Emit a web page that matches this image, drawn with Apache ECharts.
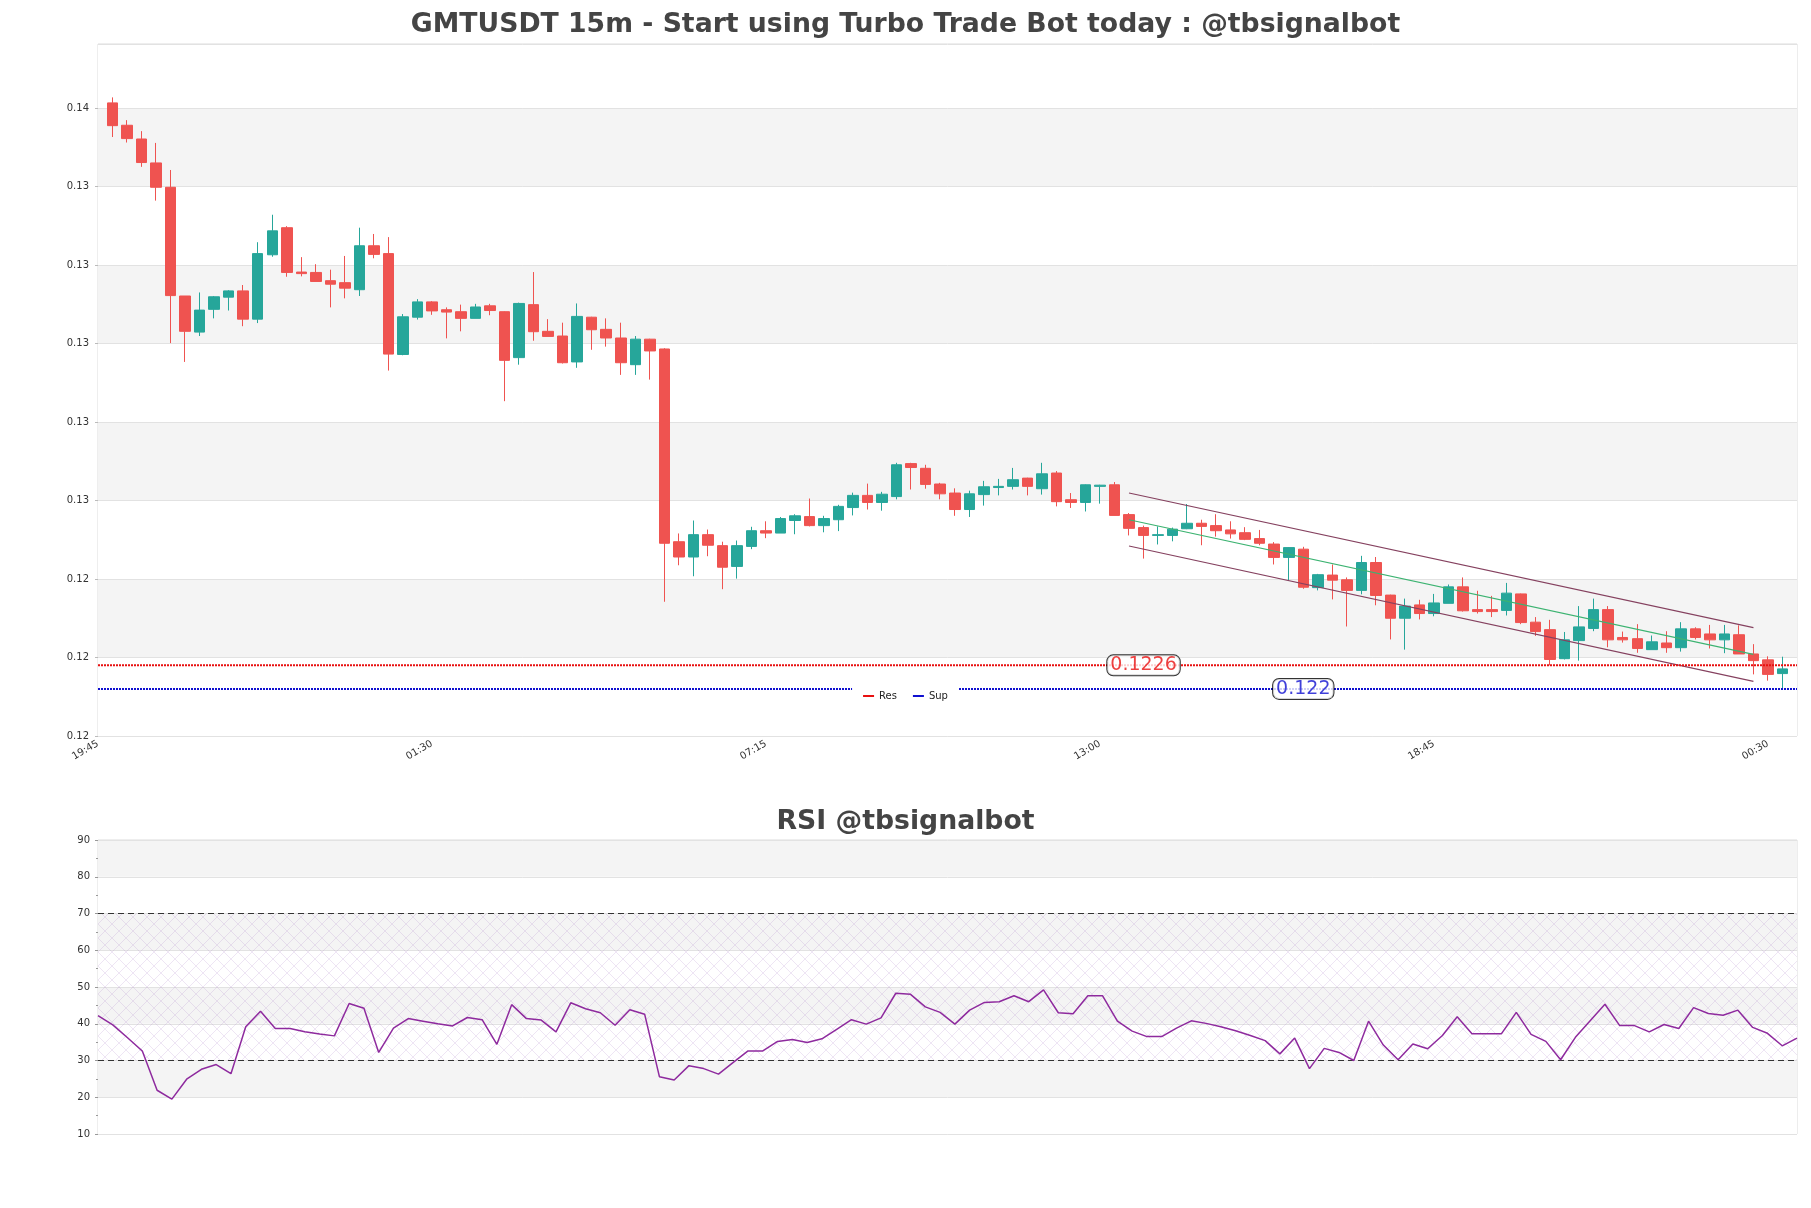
<!DOCTYPE html>
<html><head><meta charset="utf-8">
<script src="https://cdn.jsdelivr.net/npm/echarts@6/dist/echarts.min.js"></script>
<style>html,body{margin:0;padding:0;background:#fff;}#chart{width:1811px;height:1208px;}</style>
</head><body><div id="chart"></div>
<script>
// ---------- DATA ----------
const tickLabels = ['19:45', '01:30', '07:15', '13:00', '18:45', '00:30'];
const opens = [0.13693,0.13636,0.13601,0.13540,0.13478,0.13201,0.13109,0.13167,0.13198,0.13214,
0.13142,0.13306,0.13375,0.13262,0.13261,0.13240,0.13235,0.13217,0.13329,0.13309,
0.13052,0.13147,0.13186,0.13166,0.13161,0.13144,0.13176,0.13161,0.13044,0.13179,
0.13111,0.13099,0.13033,0.13147,0.13116,0.13094,0.13026,0.13091,0.13066,0.12575,
0.12536,0.12593,0.12565,0.12512,0.12563,0.12603,0.12597,0.12629,0.12639,0.12616,
0.12631,0.12662,0.12693,0.12675,0.12690,0.12774,0.12762,0.12722,0.12699,0.12657,
0.12695,0.12713,0.12716,0.12737,0.12710,0.12750,0.12682,0.12675,0.12716,0.12720,
0.12644,0.12611,0.12591,0.12591,0.12608,0.12622,0.12616,0.12605,0.12598,0.12583,
0.12569,0.12535,0.12556,0.12458,0.12490,0.12478,0.12451,0.12522,0.12439,0.12380,
0.12414,0.12392,0.12418,0.12460,0.12402,0.12402,0.12400,0.12442,0.12370,0.12351,
0.12277,0.12323,0.12354,0.12402,0.12331,0.12328,0.12300,0.12317,0.12305,0.12353,
0.12340,0.12325,0.12338,0.12289,0.12274,0.12239];
const closes = [0.13635,0.13602,0.13541,0.13478,0.13202,0.13111,0.13165,0.13199,0.13214,0.13142,
0.13309,0.13367,0.13261,0.13258,0.13238,0.13231,0.13221,0.13329,0.13307,0.13053,
0.13148,0.13186,0.13163,0.13160,0.13144,0.13173,0.13164,0.13037,0.13182,0.13110,
0.13098,0.13031,0.13149,0.13115,0.13094,0.13031,0.13091,0.13061,0.12571,0.12536,
0.12593,0.12566,0.12510,0.12565,0.12603,0.12597,0.12634,0.12641,0.12616,0.12634,
0.12665,0.12693,0.12675,0.12696,0.12771,0.12764,0.12721,0.12697,0.12657,0.12697,
0.12715,0.12716,0.12733,0.12716,0.12748,0.12677,0.12675,0.12720,0.12719,0.12642,
0.12609,0.12591,0.12593,0.12607,0.12622,0.12614,0.12603,0.12595,0.12581,0.12571,
0.12535,0.12560,0.12459,0.12491,0.12477,0.12451,0.12522,0.12438,0.12380,0.12411,
0.12392,0.12419,0.12460,0.12399,0.12397,0.12397,0.12444,0.12369,0.12346,0.12275,
0.12325,0.12358,0.12402,0.12325,0.12325,0.12303,0.12320,0.12305,0.12353,0.12331,
0.12325,0.12340,0.12289,0.12272,0.12237,0.12251];
const lows = [0.13606,0.13592,0.13530,0.13444,0.13081,0.13033,0.13099,0.13144,0.13164,0.13124,
0.13132,0.13301,0.13250,0.13251,0.13238,0.13172,0.13195,0.13201,0.13297,0.13011,
0.13050,0.13141,0.13153,0.13093,0.13111,0.13144,0.13152,0.12933,0.13026,0.13087,
0.13098,0.13029,0.13018,0.13064,0.13072,0.13000,0.13000,0.12988,0.12422,0.12515,
0.12487,0.12538,0.12454,0.12481,0.12556,0.12584,0.12597,0.12594,0.12614,0.12599,
0.12602,0.12642,0.12657,0.12654,0.12683,0.12708,0.12710,0.12683,0.12641,0.12638,
0.12667,0.12693,0.12708,0.12693,0.12695,0.12665,0.12661,0.12652,0.12672,0.12642,
0.12591,0.12532,0.12568,0.12576,0.12607,0.12566,0.12588,0.12583,0.12579,0.12566,
0.12517,0.12477,0.12455,0.12451,0.12428,0.12359,0.12441,0.12413,0.12326,0.12300,
0.12377,0.12385,0.12418,0.12397,0.12392,0.12383,0.12387,0.12365,0.12335,0.12260,
0.12275,0.12272,0.12347,0.12306,0.12318,0.12292,0.12300,0.12292,0.12295,0.12326,
0.12303,0.12291,0.12289,0.12237,0.12221,0.12200];
const highs = [0.13707,0.13649,0.13621,0.13591,0.13522,0.13201,0.13210,0.13201,0.13216,0.13229,
0.13338,0.13408,0.13379,0.13300,0.13282,0.13268,0.13303,0.13375,0.13359,0.13351,
0.13155,0.13193,0.13188,0.13172,0.13179,0.13181,0.13181,0.13162,0.13184,0.13262,
0.13142,0.13133,0.13182,0.13148,0.13144,0.13133,0.13099,0.13092,0.13068,0.12596,
0.12629,0.12606,0.12575,0.12578,0.12613,0.12627,0.12638,0.12645,0.12685,0.12641,
0.12669,0.12700,0.12723,0.12702,0.12776,0.12776,0.12771,0.12725,0.12711,0.12705,
0.12730,0.12735,0.12763,0.12738,0.12776,0.12755,0.12699,0.12721,0.12720,0.12727,
0.12648,0.12616,0.12614,0.12611,0.12671,0.12631,0.12645,0.12627,0.12612,0.12605,
0.12574,0.12561,0.12562,0.12493,0.12517,0.12484,0.12539,0.12536,0.12440,0.12430,
0.12427,0.12442,0.12466,0.12484,0.12450,0.12437,0.12470,0.12443,0.12383,0.12376,
0.12345,0.12411,0.12430,0.12411,0.12346,0.12365,0.12336,0.12347,0.12370,0.12357,
0.12363,0.12363,0.12362,0.12314,0.12283,0.12282];
const rsiValues = [42.2,39.7,36.2,32.6,21.9,19.5,24.9,27.6,28.9,26.4,
39.2,43.4,38.7,38.7,37.8,37.2,36.7,45.5,44.2,32.2,
38.8,41.4,40.7,40.0,39.4,41.7,41.1,34.4,45.2,41.4,
41.0,37.8,45.7,44.1,43.0,39.6,43.8,42.6,25.6,24.7,
28.6,27.8,26.3,29.5,32.6,32.6,35.2,35.7,34.9,35.9,
38.5,41.1,39.9,41.6,48.3,48.0,44.6,43.1,39.9,43.7,
45.8,46.0,47.6,46.0,49.2,43.0,42.7,47.6,47.6,40.7,
38.0,36.5,36.5,38.8,40.8,40.1,39.2,38.1,36.8,35.4,
31.8,36.1,27.8,33.3,32.2,30.0,40.7,34.2,30.2,34.5,
33.2,36.8,41.9,37.3,37.3,37.3,43.1,37.1,35.2,30.2,
36.3,40.8,45.3,39.5,39.5,37.8,39.8,38.7,44.4,42.8,
42.3,43.7,39.0,37.4,34.0,36.1];
const resLevel = 0.1226;
const supLevel = 0.122;
const channelIdx = [71, 114];
const channelUpper = [0.12699, 0.12356];
const channelMid = [0.12631, 0.12288];
const channelLower = [0.12564, 0.12219];
const resLabelIdx = 72;
const supLabelIdx = 83;
const rsiLevels = [70, 30];

// ---------- BUILD ----------
const N = opens.length;              // candles
const catCount = N + 2;              // padding slot each side
const cats = Array.from({length: catCount}, (_, i) => String(i));
const candleData = opens.map((o, i) => [i + 1, o, closes[i], lows[i], highs[i]]);
const rsiCats = rsiValues.map((_, i) => String(i));
const FONT = 'DejaVu Sans';

const hatch = document.createElement('canvas');
hatch.width = 14; hatch.height = 14;
(function(){
  const c = hatch.getContext('2d');
  c.strokeStyle = 'rgba(180,140,205,0.32)';
  c.lineWidth = 0.7;
  c.beginPath();
  c.moveTo(0, 0); c.lineTo(14, 14);
  c.moveTo(14, 0); c.lineTo(0, 14);
  c.stroke();
})();

const chart = echarts.init(document.getElementById('chart'), null, {renderer: 'canvas'});
const titleStyle = {fontSize: 26.7, fontWeight: 'bold', color: '#444', fontFamily: FONT};
const chLine = (name, vals, color) => ({
  type: 'line', name, xAxisIndex: 0, yAxisIndex: 0, silent: true, showSymbol: false,
  data: [[channelIdx[0], vals[0]], [channelIdx[1], vals[1]]],
  lineStyle: {color, width: 1.2}, z: 4
});
const lvlLabel = (idx, val, color) => ({
  type: 'scatter', xAxisIndex: 0, yAxisIndex: 0, silent: true, symbolSize: 0, z: 10,
  data: [[idx, val]],
  label: {show: true, position: 'inside', formatter: () => String(val), color, fontSize: 19,
    fontFamily: FONT, backgroundColor: '#fff', borderColor: '#000', borderWidth: 1,
    borderRadius: 6, padding: [1, 3, 0, 3]}
});

chart.setOption({
  animation: false,
  backgroundColor: '#fff',
  textStyle: {fontFamily: FONT},
  title: [
    {text: 'GMTUSDT 15m - Start using Turbo Trade Bot today : @tbsignalbot', left: 'center', top: 7, textStyle: titleStyle},
    {text: 'RSI @tbsignalbot', left: 'center', top: 804, textStyle: titleStyle}
  ],
  legend: {
    data: ['Res', 'Sup'], left: 'center', top: 685, icon: 'rect', itemWidth: 11, itemHeight: 2,
    itemGap: 16, backgroundColor: '#fff', padding: [6, 11], z: 20,
    textStyle: {fontSize: 10, color: '#222', fontFamily: FONT}
  },
  grid: [
    {left: 98, right: 14, top: 44, height: 692, show: true, borderColor: '#dcdcdc', borderWidth: 1},
    {left: 98, right: 14, top: 840, height: 294, show: true, borderColor: '#dcdcdc', borderWidth: 1}
  ],
  xAxis: [
    {type: 'category', gridIndex: 0, data: cats, boundaryGap: false,
     axisLine: {show: false}, axisTick: {show: false}, splitLine: {show: false},
     axisLabel: {interval: 22, rotate: 30, fontSize: 10, color: '#333', margin: 7,
       formatter: (v, i) => tickLabels[Math.round(i / 23)] || ''}},
    {type: 'category', gridIndex: 1, data: rsiCats, boundaryGap: false,
     axisLine: {show: false}, axisTick: {show: false}, axisLabel: {show: false}, splitLine: {show: false}}
  ],
  yAxis: [
    {type: 'value', gridIndex: 0, min: 0.1208, max: 0.13843, interval: 0.002,
     axisLine: {show: false}, axisTick: {show: true, length: 3, lineStyle: {color: '#bbb'}},
     axisLabel: {formatter: v => v.toFixed(2), fontSize: 10, color: '#333', showMaxLabel: false, margin: 9},
     splitLine: {lineStyle: {color: '#e2e2e2'}},
     splitArea: {show: true, areaStyle: {color: ['#ffffff', '#f4f4f4']}}},
    {type: 'value', gridIndex: 1, min: 10, max: 90, interval: 10,
     axisLine: {show: false}, axisTick: {show: true, length: 3, lineStyle: {color: '#999'}},
     minorTick: {show: true, splitNumber: 2, length: 2, lineStyle: {color: '#999'}},
     axisLabel: {fontSize: 10, color: '#333', margin: 8},
     splitLine: {lineStyle: {color: '#e2e2e2'}},
     splitArea: {show: true, areaStyle: {color: ['#ffffff', '#f4f4f4']}}}
  ],
  series: [
    {type: 'candlestick', name: 'price', xAxisIndex: 0, yAxisIndex: 0, data: candleData,
     encode: {x: 0, y: [1, 2, 3, 4]}, barWidth: 11, z: 3,
     itemStyle: {color: '#26a69a', color0: '#ef5350', borderColor: '#26a69a', borderColor0: '#ef5350', borderWidth: 1}},
    chLine('upper', channelUpper, '#85415f'),
    chLine('lower', channelLower, '#85415f'),
    chLine('mid', channelMid, '#3cb371'),
    {type: 'line', name: 'Res', xAxisIndex: 0, yAxisIndex: 0, silent: true, showSymbol: false, z: 5,
     data: [[0, resLevel], [catCount - 1, resLevel]], color: '#e81010',
     lineStyle: {color: '#e81010', width: 2, type: [2, 1]}},
    {type: 'line', name: 'Sup', xAxisIndex: 0, yAxisIndex: 0, silent: true, showSymbol: false, z: 5,
     data: [[0, supLevel], [catCount - 1, supLevel]], color: '#1010d0',
     lineStyle: {color: '#1010d0', width: 2, type: [2, 1]}},
    lvlLabel(resLabelIdx, resLevel, '#e81010'),
    lvlLabel(supLabelIdx, supLevel, '#1010d0'),
    {type: 'line', name: 'RSI', xAxisIndex: 1, yAxisIndex: 1, data: rsiValues, showSymbol: false, z: 5,
     lineStyle: {color: '#8e2a9e', width: 1.5},
     markLine: {silent: true, symbol: 'none', label: {show: false},
       lineStyle: {type: [6, 4], color: '#333', width: 1}, data: rsiLevels.map(v => ({yAxis: v}))},
     markArea: {silent: true, itemStyle: {color: {image: hatch, repeat: 'repeat'}},
       data: [[{yAxis: rsiLevels[1]}, {yAxis: rsiLevels[0]}]]}}
  ]
});
</script></body></html>
